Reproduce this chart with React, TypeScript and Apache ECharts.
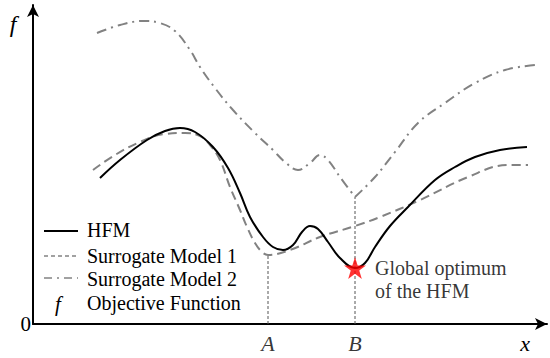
import React, { useEffect, useRef } from "react";
import * as echarts from "echarts";

// Data in schematic units (x: design variable, f: objective)
const hfmX = [67, 87, 114, 132, 147, 162, 180, 195, 207, 217, 230, 240, 250, 260, 269, 277, 285, 295, 307, 322, 332, 342, 357, 375, 402, 422, 442, 467, 494];
const hfmY = [146, 164, 184, 193, 196, 192, 177, 156, 131, 107, 87, 77, 74, 79, 92, 98, 95, 82, 66, 56, 61, 77, 98, 117, 144, 157, 167, 174, 177];

const sm1X = [60, 82, 107, 132, 152, 167, 177, 187, 197, 207, 214, 222, 229, 235, 257, 287, 322, 347, 387, 435, 475, 495];
const sm1Y = [154, 169, 182, 190, 191, 188, 179, 164, 137, 114, 97, 81, 72, 69, 74, 87, 98, 107, 124, 147, 159, 159];

const sm2aX = [64, 87, 110, 127, 142, 157, 167, 182, 200, 222, 240, 252, 265, 277, 287, 295, 307, 322];
const sm2aY = [291, 299, 303, 301, 293, 274, 257, 236, 214, 191, 174, 162, 154, 161, 169, 164, 147, 127];
const sm2bX = [322, 342, 362, 385, 412, 442, 472, 502];
const sm2bY = [127, 147, 172, 201, 221, 241, 254, 259];

const pointA = { x: 235, f: 69, label: "A" };
const pointB = { x: 322, f: 127, label: "B" };
const optimum = { x: 322, f: 56 };

const legendItems = ["HFM", "Surrogate Model 1", "Surrogate Model 2", "Objective Function"];

const X_MAX = 514;
const Y_MAX = 319;

const zip = (xs: number[], ys: number[]) => xs.map((x, i) => [x, ys[i]]);

const SERIF = "'Liberation Serif', 'Times New Roman', 'DejaVu Serif', serif";
const GRAY = "#828282";

const txt = (x: number, y: number, text: string, size: number, italic: boolean, align = "left") => ({
  type: "text",
  x,
  y,
  style: {
    text,
    fontFamily: SERIF,
    fontSize: size,
    fontStyle: italic ? "italic" : "normal",
    fill: "#000",
    textAlign: align,
    textVerticalAlign: "middle",
  },
});

export default function App() {
  const ref = useRef<HTMLDivElement>(null);
  useEffect(() => {
    if (!ref.current) return;
    const chart = echarts.init(ref.current, undefined, { renderer: "svg" });
    const star = "path://M50,0 L61.8,35.1 L98.6,35.1 L68.8,56.9 L80.2,91.9 L50,70.3 L19.8,91.9 L31.2,56.9 L1.4,35.1 L38.2,35.1 Z";
    const sm2Style = { color: GRAY, width: 2, type: [10, 5, 2, 5] as any };
    chart.setOption({
      animation: false,
      backgroundColor: "#ffffff",
      textStyle: { fontFamily: SERIF },
      grid: { left: 33, right: 3, top: 5, bottom: 34 },
      xAxis: {
        type: "value",
        min: 0,
        max: X_MAX,
        splitLine: { show: false },
        axisTick: { show: false },
        axisLabel: { show: false },
        axisLine: {
          show: true,
          onZero: false,
          symbol: ["none", "arrow"],
          symbolSize: [9, 12],
          lineStyle: { color: "#000", width: 2 },
        },
      },
      yAxis: {
        type: "value",
        min: 0,
        max: Y_MAX,
        splitLine: { show: false },
        axisTick: { show: false },
        axisLabel: {
          show: true,
          margin: 2,
          formatter: (v: number) => (v === 0 ? "0" : ""),
          fontFamily: SERIF,
          fontSize: 21,
          color: "#000",
        },
        axisLine: {
          show: true,
          onZero: false,
          symbol: ["none", "arrow"],
          symbolSize: [9, 12],
          lineStyle: { color: "#000", width: 2 },
        },
      },
      series: [
        {
          name: "A line",
          type: "line",
          data: [[pointA.x, 0], [pointA.x, pointA.f]],
          symbol: "none",
          lineStyle: { color: "#555", width: 1, type: [3, 2] },
          z: 1,
        },
        {
          name: "B line",
          type: "line",
          data: [[pointB.x, 0], [pointB.x, pointB.f]],
          symbol: "none",
          lineStyle: { color: "#555", width: 1, type: [3, 2] },
          z: 1,
        },
        {
          name: legendItems[2],
          type: "line",
          data: zip(sm2aX, sm2aY),
          smooth: 0.4,
          symbol: "none",
          lineStyle: sm2Style,
          z: 2,
        },
        {
          name: legendItems[2] + " b",
          type: "line",
          data: zip(sm2bX, sm2bY),
          smooth: 0.4,
          symbol: "none",
          lineStyle: sm2Style,
          z: 2,
        },
        {
          name: legendItems[1],
          type: "line",
          data: zip(sm1X, sm1Y),
          smooth: 0.4,
          symbol: "none",
          lineStyle: { color: GRAY, width: 2, type: [9, 5] },
          z: 2,
        },
        {
          name: legendItems[0],
          type: "line",
          data: zip(hfmX, hfmY),
          smooth: 0.4,
          symbol: "none",
          lineStyle: { color: "#000", width: 2 },
          z: 3,
        },
        {
          name: "labels",
          type: "scatter",
          data: [
            { value: [pointA.x, 0], name: pointA.label },
            { value: [pointB.x, 0], name: pointB.label },
          ],
          symbolSize: 0,
          label: {
            show: true,
            position: "bottom",
            distance: 8,
            formatter: (p: any) => p.name,
            fontFamily: SERIF,
            fontStyle: "italic",
            fontSize: 22,
            color: "#000",
          },
          z: 4,
        },
        {
          name: "optimum",
          type: "scatter",
          data: [[optimum.x, optimum.f]],
          symbol: star,
          symbolSize: 22,
          itemStyle: { color: "#ff0000" },
          label: {
            show: true,
            position: "right",
            distance: 9,
            offset: [0, 11],
            formatter: "Global optimum\nof the HFM",
            fontFamily: SERIF,
            fontSize: 20,
            lineHeight: 23,
            color: "#000",
          },
          z: 5,
        },
      ],
      graphic: [
        txt(13, 24, "f", 24, true, "center"),
        txt(525, 343, "x", 22, true, "center"),
        { type: "line", shape: { x1: 44, y1: 231, x2: 78, y2: 231 }, style: { stroke: "#000", lineWidth: 2 } },
        { type: "line", shape: { x1: 44, y1: 256, x2: 78, y2: 256 }, style: { stroke: GRAY, lineWidth: 1.5, lineDash: [4, 3] } },
        { type: "line", shape: { x1: 44, y1: 278, x2: 78, y2: 278 }, style: { stroke: GRAY, lineWidth: 1.5, lineDash: [8, 5, 2, 5] } },
        txt(58, 304, "f", 21, true, "center"),
        txt(87, 230, legendItems[0], 20, false),
        txt(87, 256, legendItems[1], 20, false),
        txt(87, 279, legendItems[2], 20, false),
        txt(87, 303, legendItems[3], 20, false),
      ],
    });
    return () => chart.dispose();
  }, []);
  return (
    <div
      ref={ref}
      style={{ position: "fixed", left: 0, top: 0, width: 550, height: 358, background: "#fff" }}
    />
  );
}
